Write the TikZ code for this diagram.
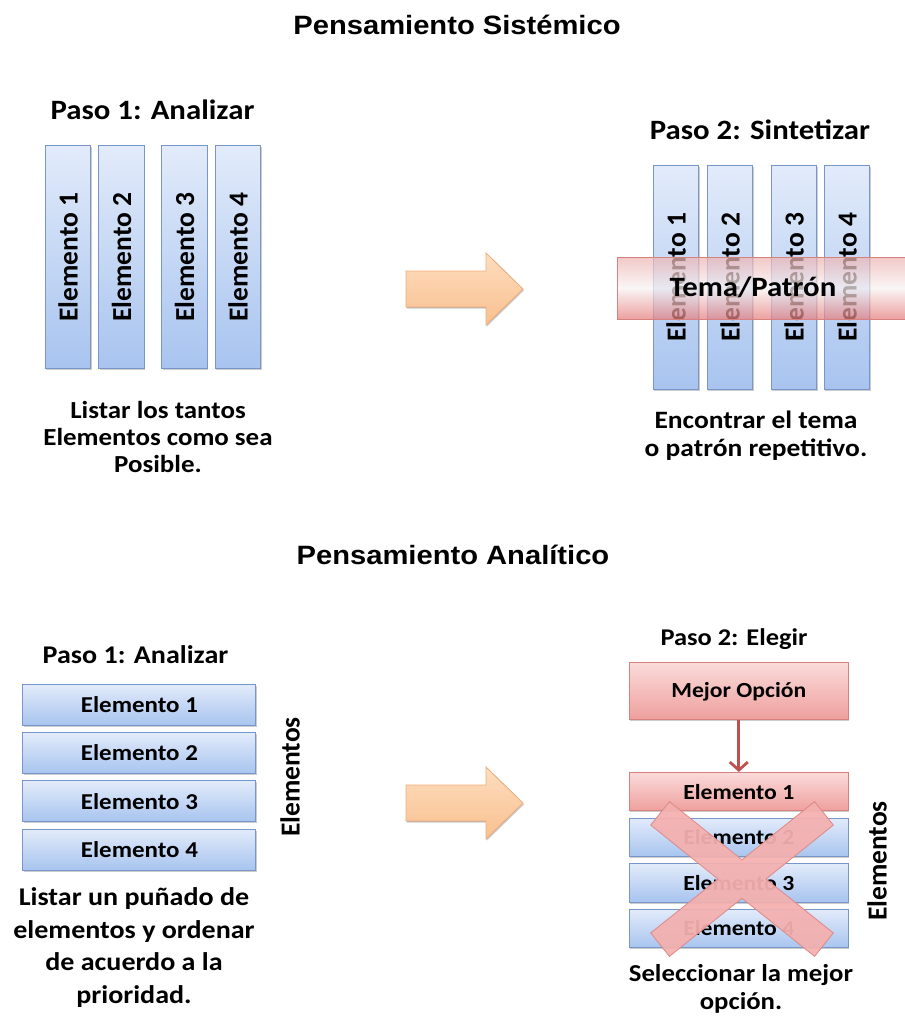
\documentclass[tikz,border=0pt]{standalone}
\usepackage{fontspec}
\newfontfamily\carl{Carlito}[FakeStretch=1.1]
\newfontfamily\carlr{Carlito}
\newfontfamily\arl{Liberation Sans}[FakeStretch=1.1]
\usetikzlibrary{shadows,arrows.meta}
\definecolor{barfillA}{HTML}{E2EBFA}
\definecolor{barfillB}{HTML}{A8C4EF}
\definecolor{barline}{HTML}{7896C8}
\definecolor{redfillA}{HTML}{FADBDA}
\definecolor{redfillB}{HTML}{EE9F9D}
\definecolor{redline}{HTML}{D7817F}
\definecolor{temaTop}{HTML}{EDB3B2}
\definecolor{temaMid}{HTML}{F8F2F2}
\definecolor{temaBot}{HTML}{E67C7B}
\definecolor{arrowTop}{HTML}{FDDDBF}
\definecolor{arrowBot}{HTML}{F9C08F}
\definecolor{arrowLine}{HTML}{F0AE7C}
\definecolor{connred}{HTML}{C0504D}
\definecolor{crossfill}{HTML}{F3B0AF}
\definecolor{crossline}{HTML}{DE8987}
\begin{document}
\begin{tikzpicture}[x=1pt,y=-1pt,
  heading/.style={font=\arl\bfseries\fontsize{26.5}{30}\selectfont, inner sep=0pt, anchor=base},
  pasolbl/.style={font=\carl\bfseries\fontsize{#1}{#1}\selectfont, inner sep=0pt, anchor=base},
  capt/.style 2 args={font=\carl\bfseries\fontsize{#1}{#2}\selectfont, align=center, inner sep=0pt, anchor=base},
  shadowed/.style={drop shadow={shadow xshift=1pt, shadow yshift=-1.5pt, fill=black, opacity=0.2}},
  bluebox/.style={rectangle, draw=barline, line width=1pt, top color=barfillA, bottom color=barfillB, inner sep=0pt, shadowed},
  redbox/.style={rectangle, draw=redline, line width=1pt, top color=redfillA, bottom color=redfillB, inner sep=0pt, shadowed},
  vbar/.style={bluebox, minimum width=45.5pt, minimum height=#1},
  hbar/.style={bluebox, minimum width=233pt, minimum height=40.7pt},
  rbar/.style={bluebox, minimum width=219pt, minimum height=38.5pt},
  vtext/.style={rotate=90, inner sep=0pt, font=\carlr\bfseries\fontsize{27.5}{27.5}\selectfont},
  boxtext/.style={inner sep=0pt, font=\carl\bfseries\fontsize{#1}{#1}\selectfont},
  blockarrow/.style={draw=arrowLine, line width=0.8pt, top color=arrowTop, bottom color=arrowBot, shadowed},
  conn/.style={draw=connred, line width=2.8pt, -{Straight Barb[length=8pt,width=18pt,line width=2.8pt]}},
  cross/.style={fill=crossfill, draw=crossline, line width=0.8pt, fill opacity=0.94, line join=miter}
]
\useasboundingbox (0,0) rectangle (904,1019);

% ---------------- Pensamiento sistemico ----------------
\node[heading] (tit1) at (457,35) {Pensamiento Sistémico};

% Paso 1: analizar (columnas)
\node[pasolbl=28] (p1) at (152.5,120) {Paso 1: Analizar};
\node[vbar=222pt] (b11) at (68,257) {};
\node[vbar=222pt] (b12) at (121.5,257) {};
\node[vbar=222pt] (b13) at (184.5,257) {};
\node[vbar=222pt] (b14) at (238,257) {};
\node[vtext] (t11) at (b11) {Elemento 1};
\node[vtext] (t12) at (b12) {Elemento 2};
\node[vtext] (t13) at (b13) {Elemento 3};
\node[vtext] (t14) at (b14) {Elemento 4};
% the base anchor of a multi-line node sits on its last line
\node[capt={24.5}{27}] (c1) at (158,472) {Listar los tantos\\Elementos como sea\\Posible.};

% flecha de bloque superior
\filldraw[blockarrow] (406,271) -- (486,271) -- (486,253) -- (523,289)
  -- (486,325) -- (486,307) -- (406,307) -- cycle;

% Paso 2: sintetizar
\node[pasolbl=28] (p2) at (760,140) {Paso 2: Sintetizar};
\node[vbar=223pt] (b21) at (676,277.5) {};
\node[vbar=223pt] (b22) at (730,277.5) {};
\node[vbar=223pt] (b23) at (794,277.5) {};
\node[vbar=223pt] (b24) at (847,277.5) {};
\node[vtext] (t21) at (b21) {Elemento 1};
\node[vtext] (t22) at (b22) {Elemento 2};
\node[vtext] (t23) at (b23) {Elemento 3};
\node[vtext] (t24) at (b24) {Elemento 4};
\node[rectangle, draw=redline, line width=0.8pt, top color=temaTop, bottom color=temaBot,
      middle color=temaMid, fill opacity=0.72, minimum width=290pt, minimum height=62pt,
      inner sep=0pt] (tema) at (762,288) {};
\node[boxtext=28] (tematxt) at (753,287) {Tema/Patrón};
\node[capt={25}{28}] (c2) at (756,456) {Encontrar el tema\\o patrón repetitivo.};

% ---------------- Pensamiento analitico ----------------
\node[heading] (tit2) at (453,564) {Pensamiento Analítico};

% Paso 1: analizar (filas)
\node[pasolbl=25.5] (p3) at (135.5,663) {Paso 1: Analizar};
\node[hbar] (h1) at (139.4,704.7) {};
\node[hbar] (h2) at (139.4,753) {};
\node[hbar] (h3) at (139.4,801.3) {};
\node[hbar] (h4) at (139.4,849.7) {};
\node[boxtext=22.7] (ht1) at (h1) {Elemento 1};
\node[boxtext=22.7] (ht2) at (h2) {Elemento 2};
\node[boxtext=22.7] (ht3) at (h3) {Elemento 3};
\node[boxtext=22.7] (ht4) at (h4) {Elemento 4};
\node[vtext] (elemL) at (290,777) {Elementos};
\node[capt={25.5}{32.5}] (c3) at (134,1003) {Listar un puñado de\\elementos y ordenar\\de acuerdo a la\\prioridad.};

% flecha de bloque inferior
\filldraw[blockarrow] (406,785) -- (486,785) -- (486,767) -- (523,803)
  -- (486,839) -- (486,821) -- (406,821) -- cycle;

% Paso 2: elegir
\node[pasolbl=24] (p4) at (734,645) {Paso 2: Elegir};
\node[redbox, minimum width=219pt, minimum height=57.3pt] (best) at (738.8,691.3) {};
\node[boxtext=21.5] (besttxt) at (best) {Mejor Opción};
\node[redbox, minimum width=219pt, minimum height=38.5pt] (r1) at (738.8,791.7) {};
\node[rbar] (g2) at (738.8,837.3) {};
\node[rbar] (g3) at (738.8,882.9) {};
\node[rbar] (g4) at (738.8,928.5) {};
\node[boxtext=21.5] (rt1) at (r1) {Elemento 1};
\node[boxtext=21.5] (gt2) at (g2) {Elemento 2};
\node[boxtext=21.5] (gt3) at (g3) {Elemento 3};
\node[boxtext=21.5] (gt4) at (g4) {Elemento 4};
\draw[conn] (best.south) -- (r1.north);

% aspa que descarta los demas elementos
\filldraw[cross, shift={(742,879)}]
  (0,-19.22) -- (72.56,-77.36) -- (91.32,-53.94) -- (23.99,0)
  -- (91.32,53.94) -- (72.56,77.36) -- (0,19.22) -- (-72.56,77.36)
  -- (-91.32,53.94) -- (-23.99,0) -- (-91.32,-53.94) -- (-72.56,-77.36) -- cycle;

\node[vtext] (elemR) at (877,861) {Elementos};
\node[capt={24.3}{28}] (c4) at (741,1009) {Seleccionar la mejor\\opción.};
\end{tikzpicture}
\end{document}
